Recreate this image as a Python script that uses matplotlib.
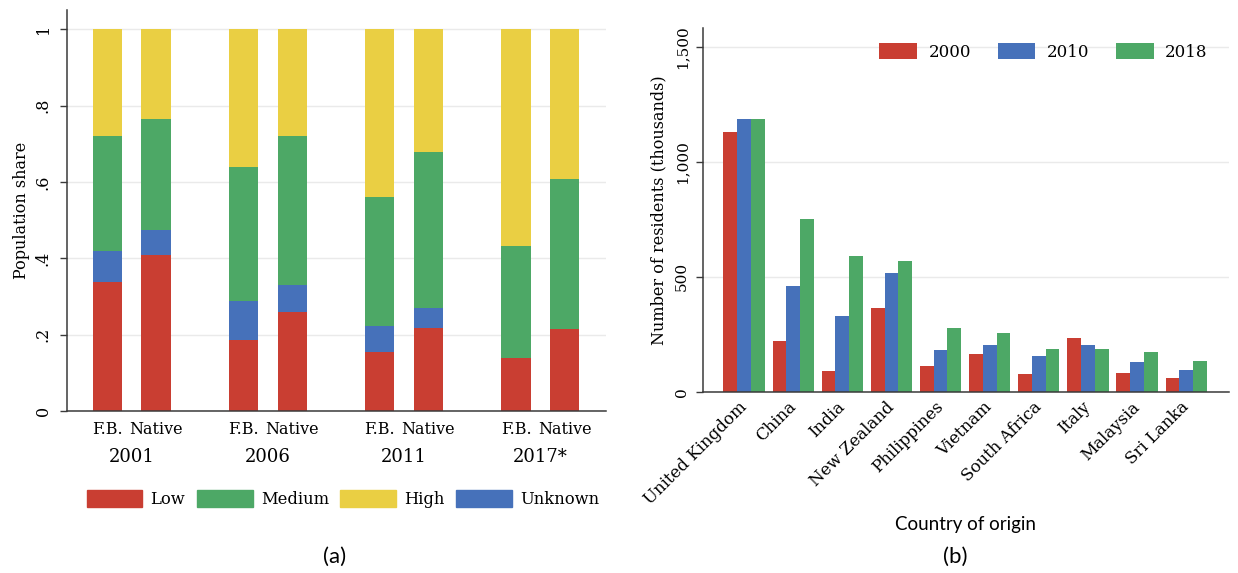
import numpy as np
import matplotlib
matplotlib.use('Agg')
import matplotlib.pyplot as plt
from matplotlib.patches import Patch
from matplotlib.transforms import blended_transform_factory

# ---------------- data ----------------
# panel (a): shares by skill level, bars ordered F.B./Native per census year
years = ['2001', '2006', '2011', '2017*']
origin_labels = ['F.B.', 'Native']
low = [0.337, 0.408, 0.185, 0.260, 0.154, 0.217, 0.140, 0.214]
unknown = [0.082, 0.066, 0.103, 0.070, 0.068, 0.053, 0.0, 0.0]
medium = [0.300, 0.291, 0.350, 0.389, 0.338, 0.409, 0.293, 0.393]
high = [0.281, 0.235, 0.362, 0.281, 0.440, 0.321, 0.567, 0.393]

# panel (b): residents by country of origin (thousands)
countries = ['United Kingdom', 'China', 'India', 'New Zealand', 'Philippines',
             'Vietnam', 'South Africa', 'Italy', 'Malaysia', 'Sri Lanka']
res_years = ['2000', '2010', '2018']
res_2000 = [1128, 222, 91, 366, 113, 164, 80, 233, 84, 59]
res_2010 = [1184, 460, 330, 518, 184, 203, 156, 203, 130, 97]
res_2018 = [1184, 753, 592, 568, 277, 256, 188, 185, 174, 135]

# ---------------- style ----------------
RED = '#C93E32'
GREEN = '#4DA866'
YELLOW = '#EACF43'
BLUE = '#4671BA'
SERIF = 'DejaVu Serif'
SANS = 'Lato'
GRID = '#eaeaea'
SPINE = '#3a3a3a'

plt.rcParams['font.family'] = SERIF
plt.rcParams['font.size'] = 11.5

fig = plt.figure(figsize=(12.38, 5.73), dpi=100)


def style_axes(ax, ysize=11.5):
    ax.spines['top'].set_visible(False)
    ax.spines['right'].set_visible(False)
    for s in ['left', 'bottom']:
        ax.spines[s].set_color(SPINE)
        ax.spines[s].set_linewidth(1.1)
    ax.yaxis.grid(True, color=GRID, linewidth=1.0)
    ax.set_axisbelow(True)
    ax.tick_params(axis='x', length=0, labelsize=11.5)
    ax.tick_params(axis='y', length=5, width=1, color=SPINE,
                   labelrotation=90, labelsize=ysize, pad=6)


# ---------------- panel (a) ----------------
ax1 = fig.add_axes([0.0541, 0.2827, 0.4354, 0.6998])
style_axes(ax1)

x = np.array([g * 2.8 + k for g in range(len(years)) for k in range(2)])
w = 0.6
b1 = np.array(low)
b2 = b1 + np.array(unknown)
b3 = b2 + np.array(medium)
ax1.bar(x, low, w, color=RED, label='Low')
ax1.bar(x, unknown, w, bottom=b1, color=BLUE, label='Unknown')
ax1.bar(x, medium, w, bottom=b2, color=GREEN, label='Medium')
ax1.bar(x, high, w, bottom=b3, color=YELLOW, label='High')

ax1.set_xlim(-0.83, 10.25)
ax1.set_ylim(0, 1.05)
ax1.set_yticks([0, 0.2, 0.4, 0.6, 0.8, 1.0])
ax1.set_yticklabels(['0', '.2', '.4', '.6', '.8', '1'], va='center')
ax1.set_xticks(x)
ax1.set_xticklabels(origin_labels * len(years))
ax1.tick_params(axis='x', pad=7)
ax1.set_ylabel('Population share', va='center')
ax1.yaxis.set_label_coords(-0.085, 0.5)

tr = blended_transform_factory(ax1.transData, fig.transFigure)
for g, yr in enumerate(years):
    ax1.text(g * 2.8 + 0.5, 0.2024, yr, transform=tr, ha='center',
             va='center', fontsize=13)

handles_a = [Patch(color=RED, label='Low'), Patch(color=GREEN, label='Medium'),
             Patch(color=YELLOW, label='High'), Patch(color=BLUE, label='Unknown')]
fig.legend(handles=handles_a, loc='center', bbox_to_anchor=(0.277, 0.129),
           ncol=4, frameon=False, fontsize=11.8, handlelength=3.4,
           handleheight=1.2, handletextpad=0.5, columnspacing=0.7)

fig.text(0.2706, 0.028, '(a)', ha='center', va='center', fontsize=16,
         family=SANS)

# ---------------- panel (b) ----------------
ax2 = fig.add_axes([0.5677, 0.3159, 0.4250, 0.6347])
style_axes(ax2, ysize=11)

xc = np.arange(len(countries))
bw = 0.28
ax2.bar(xc - bw, res_2000, bw, color=RED, label=res_years[0])
ax2.bar(xc, res_2010, bw, color=BLUE, label=res_years[1])
ax2.bar(xc + bw, res_2018, bw, color=GREEN, label=res_years[2])

ax2.set_xlim(-0.84, 9.87)
ax2.set_ylim(0, 1580)
ax2.set_yticks([0, 500, 1000, 1500])
ax2.set_yticklabels(['0', '500', '1,000', '1,500'], va='center')
ax2.tick_params(axis='y', pad=5)
ax2.set_xticks(xc)
ax2.set_xticklabels(countries, rotation=45, ha='right', va='center',
                    rotation_mode='anchor', fontsize=12)
ax2.tick_params(axis='x', pad=9)
ax2.set_ylabel('Number of residents (thousands)', va='center')
ax2.yaxis.set_label_coords(-0.083, 0.5)

ax2.legend(loc='center', bbox_to_anchor=(0.843, 0.909),
           bbox_transform=fig.transFigure, ncol=3, frameon=False,
           fontsize=12, handlelength=2.25, handleheight=1.1,
           handletextpad=0.7, columnspacing=1.6)

fig.text(0.7795, 0.0855, 'Country of origin', ha='center', va='center',
         fontsize=13.5, family=SANS)
fig.text(0.772, 0.028, '(b)', ha='center', va='center', fontsize=16,
         family=SANS)

fig.savefig('out.png', dpi=100)
